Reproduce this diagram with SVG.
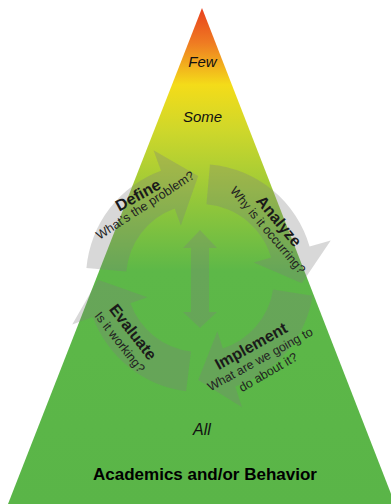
<svg xmlns="http://www.w3.org/2000/svg" width="391" height="504" viewBox="0 0 391 504">
<defs>
<linearGradient id="pyr" x1="0" y1="8" x2="0" y2="504" gradientUnits="userSpaceOnUse">
<stop offset="0" stop-color="#e8401e"/>
<stop offset="0.07" stop-color="#ef7b22"/>
<stop offset="0.155" stop-color="#f4dc19"/>
<stop offset="0.25" stop-color="#cdd72b"/>
<stop offset="0.39" stop-color="#93c73a"/>
<stop offset="0.53" stop-color="#5db848"/>
<stop offset="1" stop-color="#5ab548"/>
</linearGradient>
<style>
.arrow{fill:#7f7f7f;fill-opacity:0.3}
.lvl{font-family:"Liberation Sans",Arial,sans-serif;font-style:italic;font-size:15px;fill:#111;text-anchor:middle}
.ttl{font-family:"Liberation Sans",Arial,sans-serif;font-weight:bold;font-size:16px;fill:#1a1a1a;text-anchor:middle}
.sub{font-family:"Liberation Sans",Arial,sans-serif;font-size:12.5px;fill:#222;text-anchor:middle}
</style>
</defs>
<g id="pyramid">
<polygon points="202,8 8,504 395,504" fill="url(#pyr)"/>
<text class="lvl" x="202.5" y="67">Few</text>
<text class="lvl" x="202.5" y="122">Some</text>
<text class="lvl" x="202" y="435" style="font-size:16px">All</text>
<text x="205" y="480" style="font-family:'Liberation Sans',Arial,sans-serif;font-weight:bold;font-size:17px;fill:#000;text-anchor:middle">Academics and/or Behavior</text>
</g>
<g id="connectors">
<path class="arrow" d="M86.43,268.06 A114,114 0 0 1 161.01,170.87 L153.49,150.20 L198.22,176.02 L180.85,225.38 L174.69,208.46 A74,74 0 0 0 126.28,271.55 Z"/>
<path class="arrow" d="M209.94,164.43 A114,114 0 0 1 309.58,246.58 L330.73,240.51 L301.86,283.34 L253.83,262.56 L271.13,257.60 A74,74 0 0 0 206.45,204.28 Z"/>
<path class="arrow" d="M312.60,295.83 A114,114 0 0 1 235.23,386.42 L242.03,407.34 L198.22,379.98 L217.31,331.26 L222.87,348.38 A74,74 0 0 0 273.09,289.58 Z"/>
<path class="arrow" d="M186.11,391.15 A114,114 0 0 1 92.88,316.99 L72.20,324.51 L98.02,279.78 L147.38,297.15 L130.46,303.31 A74,74 0 0 0 190.98,351.45 Z"/>
<path class="arrow" d="M200,230 L217,248 L209,248 L209,312 L217,312 L200,328 L183,312 L191,312 L191,248 L183,248 Z"/>
</g>
<g id="define">
<text class="ttl" transform="translate(138,195) rotate(-29)" y="5.5">Define</text>
<text class="sub" transform="translate(145,205) rotate(-33)" y="4.5">What’s the problem?</text>
</g>
<g id="analyze">
<text class="ttl" transform="translate(279,221) rotate(50)" y="5.5">Analyze</text>
<text class="sub" transform="translate(268,230) rotate(50)" y="4.5">Why is it occurring?</text>
</g>
<g id="implement">
<text class="ttl" transform="translate(251,346) rotate(-29)" y="5.5">Implement</text>
<text class="sub" transform="translate(260,359) rotate(-29)" y="4.5">What are we going to</text>
<text class="sub" transform="translate(268,372) rotate(-30)" y="4.5">do about it?</text>
</g>
<g id="evaluate">
<text class="ttl" transform="translate(133,332) rotate(52)" y="5.5">Evaluate</text>
<text class="sub" transform="translate(120,342) rotate(52)" y="4.5">Is it working?</text>
</g>
</svg>
